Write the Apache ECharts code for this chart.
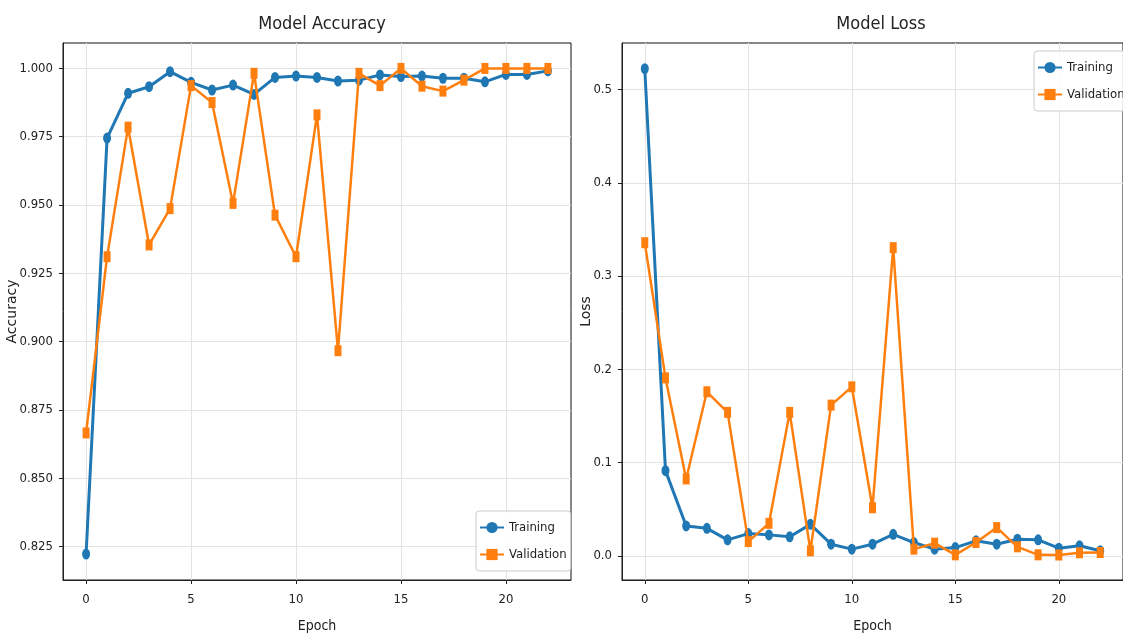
<!DOCTYPE html>
<html>
<head>
<meta charset="utf-8">
<script src="https://cdn.jsdelivr.net/npm/echarts@6/dist/echarts.min.js"></script>
<style>
html,body{margin:0;padding:0;background:#fff;}
#c{width:1123px;height:638px;}
</style>
</head>
<body>
<div id="c"></div>
<script>
const epochs = [0,1,2,3,4,5,6,7,8,9,10,11,12,13,14,15,16,17,18,19,20,21,22];
const trainAcc = [0.8223,0.9745,0.9909,0.9933,0.9988,0.9949,0.9921,0.9939,0.9905,0.9967,0.9972,0.9967,0.9954,0.9957,0.9976,0.9970,0.9972,0.9964,0.9964,0.9951,0.9978,0.9978,0.9991];
const valAcc = [0.8666,0.9311,0.9785,0.9354,0.9487,0.9937,0.9875,0.9506,0.9982,0.9463,0.9311,0.9830,0.8967,0.9982,0.9937,1.0000,0.9935,0.9917,0.9957,1.0000,1.0000,1.0000,1.0000];
const trainLoss = [0.5224,0.0913,0.0320,0.0294,0.0171,0.0238,0.0224,0.0203,0.0337,0.0124,0.0071,0.0124,0.0230,0.0142,0.0071,0.0088,0.0160,0.0124,0.0177,0.0171,0.0081,0.0107,0.0053];
const valLoss = [0.3358,0.1908,0.0824,0.1759,0.1538,0.0152,0.0348,0.1538,0.0053,0.1616,0.1812,0.0515,0.3305,0.0071,0.0135,0.0010,0.0142,0.0302,0.0096,0.0010,0.0008,0.0032,0.0035];
const xTicks = [0,5,10,15,20];
const accTicks = [0.825,0.850,0.875,0.900,0.925,0.950,0.975,1.000];
const lossTicks = [0.0,0.1,0.2,0.3,0.4,0.5];

const pairs = (ys) => epochs.map((e,i)=>[e, ys[i]]);
const NARROW = "'Liberation Sans Narrow','DejaVu Sans Condensed','Arial Narrow',sans-serif";
const BLUE = '#1f77b4', ORANGE = '#ff7f0e';
const INK = '#222';
const GRIDC = '#e3e3e3';

function xAxisCfg(idx){
  return {
    type:'value', gridIndex: idx, min:-1.1, max:23.1,
    name:'Epoch', nameLocation:'middle', nameGap:39, nameMoveOverlap:false,
    nameTextStyle:{fontFamily:NARROW, fontSize:14, color:INK},
    axisLine:{show:true, onZero:false, lineStyle:{color:INK, width:1}},
    axisTick:{show:true, length:4, customValues:xTicks, lineStyle:{color:INK}},
    axisLabel:{fontFamily:NARROW, fontSize:13, color:INK, margin:13, customValues:xTicks,
      formatter:(v)=>String(v)},
    splitLine:{show:true, lineStyle:{color:GRIDC, width:1}}
  };
}
function yAxisCfg(idx, min, max, ticks, digits, name, gap){
  return {
    type:'value', gridIndex:idx, min:min, max:max,
    name:name, nameLocation:'middle', nameGap:gap, nameRotate:90, nameMoveOverlap:false,
    nameTextStyle:{fontFamily:"'DejaVu Sans',sans-serif", fontSize:14, color:INK},
    axisLine:{show:true, onZero:false, lineStyle:{color:INK}},
    axisTick:{show:true, length:4, customValues:ticks, lineStyle:{color:INK}},
    axisLabel:{fontFamily:NARROW, fontSize:13, color:INK, margin:10, customValues:ticks,
      formatter:(v)=>v.toFixed(digits)},
    splitLine:{show:true, lineStyle:{color:GRIDC, width:1}}
  };
}
function legendCfg(left, top){
  return {data:['Training','Validation'], orient:'vertical', left:left, top:top,
    padding:[10,4,10,3], itemGap:14, itemWidth:24, itemHeight:14,
    backgroundColor:'rgba(255,255,255,0.85)', borderColor:'#cccccc', borderWidth:1, borderRadius:3,
    textStyle:{fontFamily:NARROW, fontSize:13, color:INK}};
}

const option = {
  backgroundColor:'#fff',
  animation:false,
  title:[
    {text:'Model Accuracy', left:317, top:10, textAlign:'center',
      textStyle:{fontFamily:NARROW, fontSize:18, fontWeight:'normal', color:INK}},
    {text:'Model Loss', left:876, top:10, textAlign:'center',
      textStyle:{fontFamily:NARROW, fontSize:18, fontWeight:'normal', color:INK}}
  ],
  grid:[
    {left:63, top:43, width:508, height:540, show:true, borderColor:'#111', borderWidth:1, backgroundColor:'transparent'},
    {left:622, top:43, width:508, height:540, show:true, borderColor:'#111', borderWidth:1, backgroundColor:'transparent'}
  ],
  xAxis:[xAxisCfg(0), xAxisCfg(1)],
  yAxis:[
    yAxisCfg(0, 0.8128, 1.0093, accTicks, 3, 'Accuracy', 44),
    yAxisCfg(1, -0.026, 0.55, lossTicks, 1, 'Loss', 29)
  ],
  legend:[legendCfg(476,511), legendCfg(1034,51)],
  series:[
    {name:'Training', type:'line', xAxisIndex:0, yAxisIndex:0, data:pairs(trainAcc),
      symbol:'circle', symbolSize:[8,11], showAllSymbol:true,
      lineStyle:{color:BLUE, width:3}, itemStyle:{color:BLUE}, z:2},
    {name:'Validation', type:'line', xAxisIndex:0, yAxisIndex:0, data:pairs(valAcc),
      symbol:'rect', symbolSize:[7,11], showAllSymbol:true,
      lineStyle:{color:ORANGE, width:2.5}, itemStyle:{color:ORANGE}, z:3},
    {name:'Training', type:'line', xAxisIndex:1, yAxisIndex:1, data:pairs(trainLoss),
      symbol:'circle', symbolSize:[8,11], showAllSymbol:true,
      lineStyle:{color:BLUE, width:3}, itemStyle:{color:BLUE}, z:2},
    {name:'Validation', type:'line', xAxisIndex:1, yAxisIndex:1, data:pairs(valLoss),
      symbol:'rect', symbolSize:[7,11], showAllSymbol:true,
      lineStyle:{color:ORANGE, width:2.5}, itemStyle:{color:ORANGE}, z:3}
  ]
};
const chart = echarts.init(document.getElementById('c'), null, {renderer:'canvas'});
chart.setOption(option);
</script>
</body>
</html>
